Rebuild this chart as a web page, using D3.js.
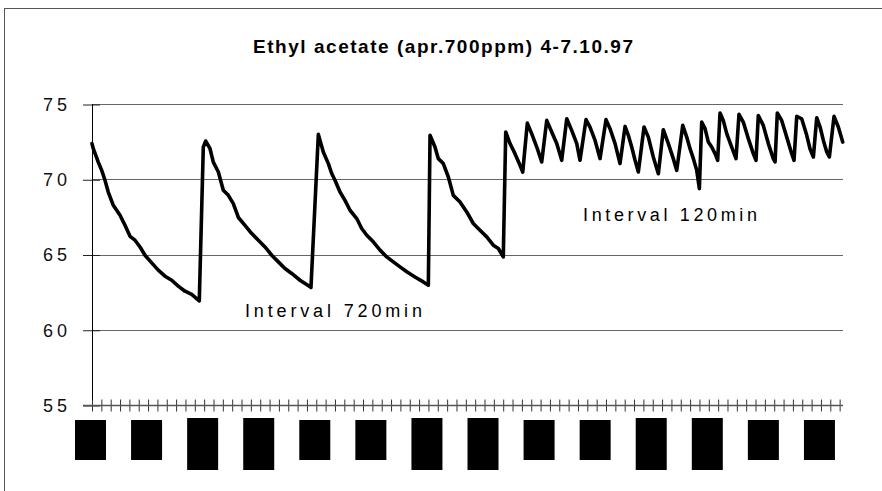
<!DOCTYPE html>
<html><head><meta charset="utf-8">
<script src="https://cdn.jsdelivr.net/npm/d3@7"></script>
<style>html,body{margin:0;padding:0;background:#fff;} svg{display:block}</style>
</head><body><svg id="c" width="882" height="491"></svg>
<script>
// ---------- data ----------
const chartTitle = "Ethyl acetate (apr.700ppm) 4-7.10.97";
const yTickValues = [55, 60, 65, 70, 75];
// elapsed time (hours) and concentration readings
const hours = [0,0.14,0.67,1.04,1.39,1.74,2.28,3.00,3.53,4.07,4.60,5.14,5.67,6.39,7.09,7.81,8.53,9.23,9.95,10.67,11.48,
  11.91,12.17,12.63,12.98,13.52,14.05,14.59,15.12,15.66,16.37,17.09,17.80,18.51,19.23,19.94,20.65,21.37,22.26,23.33,23.43,
  24.22,24.75,25.29,25.65,26.00,26.54,27.07,27.61,28.33,28.86,29.40,30.10,30.82,31.54,32.24,32.96,33.68,34.56,35.45,35.99,
  36.17,36.70,37.06,37.59,38.13,38.66,39.38,40.10,40.80,41.52,42.24,42.94,43.48,44.01,
  44.27,44.73,45.26,45.80,46.09,46.58,47.05,47.59,48.12,48.66,49.19,49.73,50.26,50.80,51.33,51.87,52.22,52.86,53.29,53.83,54.36,
  55.00,55.43,55.97,56.50,57.04,57.39,57.75,58.11,58.46,59.07,59.53,60.06,60.60,61.13,61.67,62.20,62.57,63.21,63.64,63.99,64.35,
  64.71,64.99,65.24,65.60,65.95,66.31,66.67,66.95,67.20,67.55,67.92,68.45,68.91,69.23,69.69,70.23,70.76,71.05,71.30,71.83,72.37,
  72.90,73.09,73.33,73.80,74.34,74.87,75.12,75.41,75.94,76.48,76.83,77.19,77.55,77.91,78.26,78.62,78.90,79.40,79.86,80.33];
const ppmValues = [72.37,72.03,71.14,70.59,69.93,69.15,68.27,67.61,66.94,66.21,65.95,65.50,64.95,64.44,63.96,63.56,63.29,62.90,62.56,62.35,61.92,
  72.14,72.54,72.03,71.14,70.48,69.27,68.93,68.38,67.46,66.94,66.39,65.95,65.50,64.95,64.51,64.07,63.74,63.29,62.85,62.81,
  72.98,71.81,71.04,70.38,69.93,69.15,68.60,67.94,67.39,66.73,66.28,65.84,65.29,64.84,64.51,64.18,63.85,63.51,63.18,62.96,
  72.92,72.14,71.37,71.04,70.15,68.93,68.49,67.83,67.06,66.61,66.17,65.62,65.40,64.84,
  73.14,72.37,71.70,70.93,70.48,73.73,73.03,72.14,71.15,73.91,73.14,72.37,71.26,74.02,73.25,72.37,71.26,73.96,73.47,72.58,71.37,
  73.96,73.36,72.37,71.04,73.51,72.92,72.14,71.26,70.48,73.47,72.80,71.48,70.37,73.29,72.37,71.37,70.59,73.58,72.80,72.03,71.37,
  70.59,69.38,73.80,73.36,72.47,72.14,71.70,71.26,74.40,73.91,73.03,72.14,71.37,74.31,73.80,72.70,71.70,71.26,74.24,73.58,72.37,
  71.37,71.15,74.40,73.91,72.80,71.70,71.26,74.18,74.02,72.92,72.03,71.48,74.09,73.47,72.58,71.81,71.48,74.18,73.47,72.47];
const xTickHours = d3.range(0, 81, 1);
const xLabelHours = d3.range(0, 79, 6);
const noteTexts = ["Interval 720min", "Interval 120min"];
const noteAnchors = [[16.37, 60.84], [52.54, 67.21]];

// ---------- drawing ----------
const svg = d3.select("#c");
const FONT = "'Liberation Sans', Arial, Helvetica, sans-serif";
const x = d3.scaleLinear().domain([0, 80.36]).range([92, 843]);
const y = d3.scaleLinear().domain([55, 75]).range([405, 104]);

// outer frame
svg.append("rect").attr("x", 4.5).attr("y", 8.5).attr("width", 900).attr("height", 500)
  .attr("fill", "none").attr("stroke", "#555").attr("stroke-width", 1);

// title
svg.append("text").attr("x", 253).attr("y", 53).attr("font-family", FONT)
  .attr("font-size", 19).attr("font-weight", "bold").attr("fill", "#000")
  .attr("textLength", 380).attr("lengthAdjust", "spacing").text(chartTitle);

// gridlines
svg.append("g").selectAll("line").data(yTickValues.filter(v => v > 55)).join("line")
  .attr("x1", x(0)).attr("x2", 843).attr("y1", d => Math.round(y(d)) + 0.5).attr("y2", d => Math.round(y(d)) + 0.5)
  .attr("stroke", "#666").attr("stroke-width", 1);

// y axis
const yAxis = svg.append("g").attr("transform", `translate(${x(0)},0)`)
  .call(d3.axisLeft(y).tickValues(yTickValues).tickSize(0).tickPadding(0));
yAxis.select(".domain").remove();
yAxis.selectAll(".tick line").remove();
yAxis.selectAll(".tick").append("line").attr("x1", -9).attr("x2", 8).attr("y1", 0.5).attr("y2", 0.5)
  .attr("stroke", "#222");
yAxis.selectAll(".tick text").attr("x", -49).attr("dy", "0.36em").attr("text-anchor", "start")
  .attr("font-family", FONT).attr("font-size", 18).attr("fill", "#111")
  .attr("textLength", 24).attr("lengthAdjust", "spacing");
svg.append("line").attr("x1", x(0) + 0.5).attr("x2", x(0) + 0.5).attr("y1", y(75)).attr("y2", y(55) + 6)
  .attr("stroke", "#000").attr("stroke-width", 1);

// x axis
const xAxis = svg.append("g").attr("transform", `translate(0,${Math.round(y(55)) + 0.5})`)
  .call(d3.axisBottom(x).tickValues(xTickHours).tickSize(0).tickFormat(""));
xAxis.select(".domain").remove();
xAxis.append("line").attr("x1", 83).attr("x2", 843).attr("stroke", "#555").attr("stroke-width", 1.5);
xAxis.selectAll(".tick line").attr("y1", -6).attr("y2", 6).attr("stroke", "#333").attr("stroke-width", 1);

// x labels (rendered as solid blocks in the reference)
svg.append("g").selectAll("rect").data(xLabelHours).join("rect")
  .attr("x", d => x(d) - 17).attr("width", 31)
  .attr("y", (d, i) => Math.floor(i / 2) % 2 ? 418 : 420)
  .attr("height", (d, i) => Math.floor(i / 2) % 2 ? 52 : 40)
  .attr("fill", "#000");

// line
const pts = hours.map((h, i) => [h, ppmValues[i]]);
svg.append("path").datum(pts)
  .attr("d", d3.line().x(d => x(d[0])).y(d => y(d[1])))
  .attr("fill", "none").attr("stroke", "#000").attr("stroke-width", 3.6)
  .attr("stroke-linejoin", "round").attr("stroke-linecap", "round");

// annotations
svg.append("g").selectAll("text").data(noteTexts).join("text")
  .attr("x", (d, i) => x(noteAnchors[i][0])).attr("y", (d, i) => y(noteAnchors[i][1]))
  .attr("font-family", FONT).attr("font-size", 18).attr("fill", "#000")
  .attr("textLength", (d, i) => i === 0 ? 177 : 174).attr("lengthAdjust", "spacing")
  .text(d => d);
</script>
</body></html>
